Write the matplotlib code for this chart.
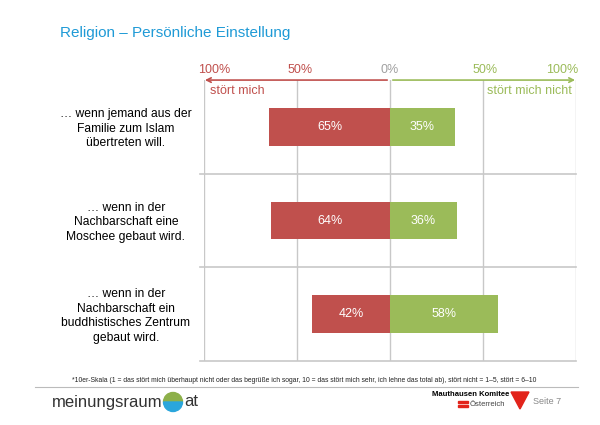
import matplotlib
matplotlib.use('Agg')
import matplotlib.pyplot as plt
from matplotlib.patches import Polygon, Wedge, Rectangle

plt.rcParams['font.family'] = ['Liberation Sans', 'DejaVu Sans']

# Data
questions = ['… wenn jemand aus der\nFamilie zum Islam\nübertreten will.',
             '… wenn in der\nNachbarschaft eine\nMoschee gebaut wird.',
             '… wenn in der\nNachbarschaft ein\nbuddhistisches Zentrum\ngebaut wird.']
stoert = [65, 64, 42]
stoert_nicht = [35, 36, 58]
tick_pos = [-100, -50, 0, 50, 100]
tick_labels = ['100%', '50%', '0%', '50%', '100%']

red = '#C0504D'
green = '#9BBB59'
grid_col = '#C8C8C8'

fig = plt.figure(figsize=(6, 4.25), dpi=100)
ax = fig.add_axes([0.34, 0.1506, 0.62, 0.661])
ax.set_xlim(-100, 100)
ax.set_ylim(0, 3)
ax.axis('off')

# grid
for x in tick_pos:
    ax.axvline(x, color=grid_col, lw=1, zorder=0)
for y in [0, 1, 2]:
    ax.plot([-102, 100], [y, y], color=grid_col, lw=1.2, clip_on=False, zorder=0)

# bars
ypos = [2.5, 1.5, 0.5]
ax.barh(ypos, [-v for v in stoert], height=0.4, color=red, zorder=2)
ax.barh(ypos, stoert_nicht, height=0.4, color=green, zorder=2)
for y, a, b in zip(ypos, stoert, stoert_nicht):
    ax.text(-a / 2, y, f'{a}%', color='white', ha='center', va='center', fontsize=9)
    ax.text(b / 2, y, f'{b}%', color='white', ha='center', va='center', fontsize=9)

# category labels
for y, q in zip(ypos, questions):
    ax.text(-142, y - 0.02, q, ha='center', va='center', fontsize=8.7, linespacing=1.3)

# top arrows and scale
ax.annotate('', xy=(-101, 3), xytext=(0, 3),
            arrowprops=dict(arrowstyle='->', color=red, lw=1.2, mutation_scale=8),
            annotation_clip=False)
ax.annotate('', xy=(101, 3), xytext=(0, 3),
            arrowprops=dict(arrowstyle='->', color=green, lw=1.2, mutation_scale=8),
            annotation_clip=False)
tick_cols = [red, red, '#A0A0A0', green, green]
tick_ha = ['left', 'center', 'center', 'center', 'right']
tick_dx = [-3, 1.5, 0, 1, 1]
for x, lab, c, h, dx in zip(tick_pos, tick_labels, tick_cols, tick_ha, tick_dx):
    ax.text(x + dx, 3.04, lab, color=c, ha=h, va='bottom', fontsize=9)
ax.text(-97, 2.88, 'stört mich', color=red, ha='left', va='center', fontsize=9)
ax.text(98, 2.88, 'stört mich nicht', color=green, ha='right', va='center', fontsize=9)

# title
fig.text(60 / 600, 1 - 33 / 425, 'Religion – Persönliche Einstellung', color='#1F9AD6',
         fontsize=11, ha='left', va='center')

# footnote and footer
fig.text(304.5 / 600, 1 - 380 / 425,
         '*10er-Skala (1 = das stört mich überhaupt nicht oder das begrüße ich sogar, 10 = das stört mich sehr, '
         'ich lehne das total ab), stört nicht = 1–5, stört = 6–10',
         fontsize=4.87, ha='center', va='center', color='#222222')
fig.add_artist(plt.Line2D([35 / 600, 578 / 600], [1 - 387 / 425] * 2, color='#BBBBBB', lw=0.8))

fig.text(52 / 600, 1 - 402 / 425, 'meinungsraum', fontsize=12, ha='left', va='center', color='#333333')
gc = (1.73, (425 - 402) / 100)
fig.add_artist(Wedge(gc, 0.095, 0, 180, color='#8DB04A', transform=fig.dpi_scale_trans))
fig.add_artist(Wedge(gc, 0.095, 180, 360, color='#2AA6DC', transform=fig.dpi_scale_trans))
fig.text(184 / 600, 1 - 402 / 425, 'at', fontsize=12, ha='left', va='center', color='#333333')

fig.text(471 / 600, 1 - 394 / 425, 'Mauthausen Komitee', fontsize=5.5, fontweight='bold',
         ha='center', va='center')
fig.text(470 / 600, 1 - 405 / 425, 'Österreich', fontsize=5.5, ha='left', va='center', color='#444444')
for yy in [402, 406]:
    fig.add_artist(Rectangle((458 / 600, 1 - (yy + 1) / 425), 10 / 600, 1.8 / 425,
                             color='#E2231A', transform=fig.transFigure))
fig.add_artist(Polygon([[511 / 600, 1 - 392 / 425], [529 / 600, 1 - 392 / 425],
                        [520 / 600, 1 - 409 / 425]], closed=True, color='#E2231A',
                       transform=fig.transFigure))
fig.text(533 / 600, 1 - 401 / 425, 'Seite 7', fontsize=6.5, ha='left', va='center', color='#888888')

fig.savefig('out.png', dpi=100)
